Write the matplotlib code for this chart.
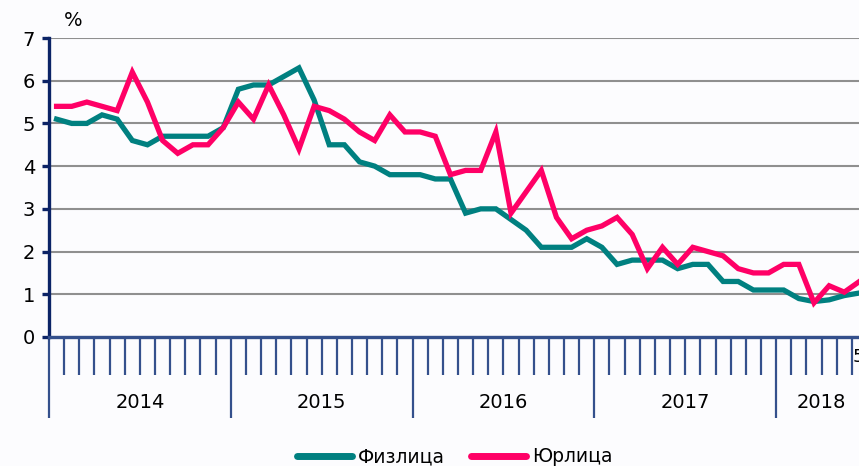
import numpy as np
import matplotlib
matplotlib.use("Agg")
import matplotlib.pyplot as plt

# monthly values, Jan 2014 .. Jun 2018
years = ['2014', '2015', '2016', '2017', '2018']
fiz = [5.1, 5.0, 5.0, 5.2, 5.1, 4.6, 4.5, 4.7, 4.7, 4.7, 4.7, 4.9,
       5.8, 5.9, 5.9, 6.1, 6.3, 5.55, 4.5, 4.5, 4.1, 4.0, 3.8, 3.8,
       3.8, 3.7, 3.7, 2.9, 3.0, 3.0, 2.75, 2.5, 2.1, 2.1, 2.1, 2.3,
       2.1, 1.7, 1.8, 1.8, 1.8, 1.6, 1.7, 1.7, 1.3, 1.3, 1.1, 1.1,
       1.1, 0.9, 0.83, 0.87, 0.97, 1.03]
yur = [5.4, 5.4, 5.5, 5.4, 5.3, 6.2, 5.5, 4.6, 4.3, 4.5, 4.5, 4.9,
       5.5, 5.1, 5.9, 5.2, 4.4, 5.4, 5.3, 5.1, 4.8, 4.6, 5.2, 4.8,
       4.8, 4.7, 3.8, 3.9, 3.9, 4.8, 2.9, 3.4, 3.9, 2.8, 2.3, 2.5,
       2.6, 2.8, 2.4, 1.6, 2.1, 1.7, 2.1, 2.0, 1.9, 1.6, 1.5, 1.5,
       1.7, 1.7, 0.8, 1.2, 1.05, 1.3]

navy = '#0B2366'
tick_col = '#34508C'
W, H = 859, 466

fig = plt.figure(figsize=(W / 100, H / 100), dpi=100)
fig.patch.set_facecolor('#FCFCFE')
# the chart is cut at the right edge, as in the original
ax = fig.add_axes([49 / W, 1 - 337 / H, (867 - 49) / W, (337 - 38) / H])
ax.set_facecolor('#FCFCFE')

x = np.arange(len(fiz)) + 0.5
ax.plot(x, fiz, color='#008080', lw=3.8, solid_joinstyle='miter', label='Физлица', zorder=3)
ax.plot(x, yur, color='#FF0066', lw=3.8, solid_joinstyle='miter', label='Юрлица', zorder=3)

ax.set_xlim(0, 54)
ax.set_ylim(0, 7)
ax.set_yticks(range(8))
ax.grid(axis='y', color='#8F8F8F', lw=1.5, zorder=1)
ax.set_axisbelow(True)

for s in ['top', 'right']:
    ax.spines[s].set_visible(False)
ax.spines['left'].set_color(navy)
ax.spines['left'].set_linewidth(2.4)
ax.spines['bottom'].set_color(tick_col)
ax.spines['bottom'].set_linewidth(2.4)
ax.spines['bottom'].set_zorder(4)

ax.tick_params(axis='y', length=5, width=2.4, color=navy, labelsize=14, pad=5)

year_pos = [0, 12, 24, 36, 48, 54]
month_pos = [m for m in range(1, 54) if m not in year_pos]
ax.set_xticks(year_pos)
ax.set_xticklabels([])
ax.set_xticks(month_pos, minor=True)
ax.tick_params(axis='x', which='major', length=58, width=1.6, color=tick_col)
ax.tick_params(axis='x', which='minor', length=27, width=1.6, color=tick_col)

# year labels centred in each year span
for i, yl in enumerate(years):
    lo = i * 12
    hi = min(lo + 12, 54)
    ax.text((lo + hi) / 2, -1.53, yl, ha='center', va='center', fontsize=14,
            transform=ax.transData, clip_on=False)

fig.text(64 / W, 1 - 20 / H, '%', fontsize=14, ha='left', va='center')
fig.text(853 / W, 1 - 357 / H, '5', fontsize=13, ha='left', va='center')

fig.legend(loc='center', bbox_to_anchor=(455 / W, 1 - 457 / H), ncol=2, frameon=False,
           fontsize=13.5, handlelength=2.9, handletextpad=0.35, columnspacing=1.4)
for line in fig.legends[0].get_lines():
    line.set_linewidth(5)
    line.set_solid_capstyle('round')

fig.savefig('out.png', dpi=100, facecolor=fig.get_facecolor())
